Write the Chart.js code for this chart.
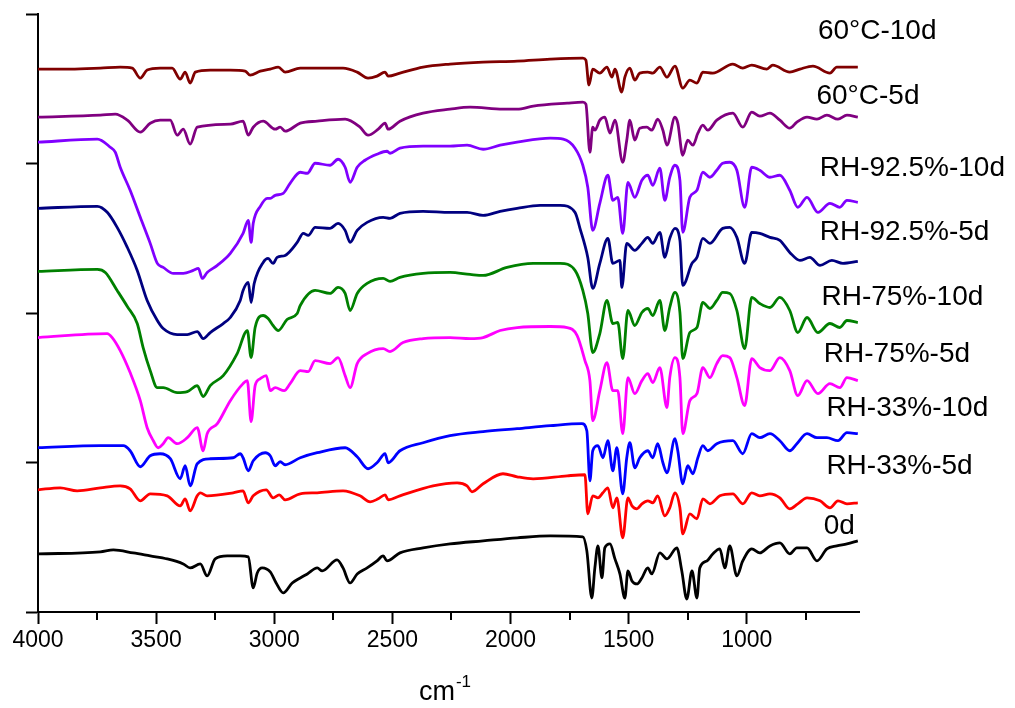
<!DOCTYPE html>
<html>
<head>
<meta charset="utf-8">
<title>IR spectra</title>
<script src="https://cdn.jsdelivr.net/npm/chart.js@4.4.1/dist/chart.umd.min.js"></script>
<style>
  html, body { margin: 0; padding: 0; background: #fff; }
  #wrap { width: 1015px; height: 708px; }
</style>
</head>
<body>
<div id="wrap"><canvas id="irChart" width="1015" height="708"></canvas></div>
<script>
// [wavenumber cm-1, offset intensity a.u.]
const s60C10d = [[4000,542],[3863,542],[3736,543],[3652,544],[3601,543],[3567,533],[3538,541],[3483,543],[3432,543],[3398,532],[3377,539],[3356,528],[3334,539],[3271,541],[3186,541],[3123,540],[3102,536],[3059,540],[3017,542],[2983,544],[2954,539],[2890,543],[2806,543],[2709,543],[2649,539],[2603,533],[2565,535],[2531,539],[2518,535],[2468,538],[2370,544],[2256,547],[2116,549],[1972,550],[1832,552],[1694,553],[1681,551],[1668,526],[1652,542],[1622,538],[1592,544],[1571,534],[1558,542],[1529,519],[1516,534],[1495,543],[1474,531],[1453,538],[1419,539],[1398,538],[1368,544],[1338,534],[1304,545],[1271,523],[1241,531],[1211,528],[1186,539],[1144,538],[1059,547],[1017,543],[979,546],[915,542],[890,546],[818,539],[775,542],[720,545],[648,538],[619,544],[576,544],[530,544]];

const s60C5d = [[4000,494],[3736,496],[3673,497],[3622,491],[3567,479],[3525,488],[3483,491],[3440,491],[3411,476],[3385,482],[3356,467],[3326,484],[3186,487],[3132,490],[3110,476],[3089,484],[3047,490],[2996,482],[2975,484],[2954,480],[2890,488],[2818,490],[2700,492],[2637,484],[2603,476],[2560,482],[2531,488],[2518,482],[2468,490],[2370,498],[2256,502],[2171,504],[2032,502],[1972,502],[1904,505],[1760,508],[1694,509],[1681,507],[1664,459],[1652,484],[1643,481],[1622,491],[1601,494],[1579,478],[1558,491],[1525,449],[1508,471],[1495,491],[1474,471],[1453,483],[1423,484],[1402,481],[1377,492],[1355,481],[1338,466],[1304,494],[1292,488],[1271,456],[1250,471],[1228,466],[1207,478],[1186,486],[1165,481],[1127,491],[1059,498],[1017,484],[979,499],[945,495],[902,498],[860,491],[818,483],[788,489],[745,494],[703,492],[661,496],[614,492],[576,496],[530,494]];

const sRH925_10d = [[4000,469],[3749,472],[3694,464],[3673,459],[3652,444],[3610,421],[3567,394],[3525,368],[3495,348],[3470,344],[3427,338],[3385,338],[3343,341],[3321,343],[3305,333],[3284,339],[3241,346],[3186,358],[3132,378],[3110,391],[3098,369],[3089,388],[3059,405],[3030,413],[3017,413],[2996,416],[2962,418],[2933,428],[2890,439],[2860,438],[2827,448],[2764,446],[2730,452],[2700,444],[2679,429],[2649,444],[2616,451],[2565,457],[2523,460],[2510,458],[2468,463],[2370,465],[2256,465],[2184,466],[2116,462],[2044,466],[1972,469],[1832,473],[1777,472],[1727,463],[1694,446],[1673,424],[1652,381],[1622,408],[1588,436],[1567,411],[1546,414],[1525,378],[1503,429],[1474,414],[1444,431],[1419,436],[1398,426],[1368,443],[1347,411],[1326,434],[1304,446],[1283,431],[1271,379],[1241,414],[1211,421],[1186,439],[1156,434],[1127,441],[1102,448],[1072,449],[1042,441],[1009,404],[979,444],[945,441],[902,434],[860,436],[818,421],[784,404],[745,414],[699,399],[648,408],[606,404],[576,411],[530,409]];

const sRH925_5d = [[4000,403],[3749,405],[3707,399],[3665,384],[3622,364],[3580,341],[3538,311],[3495,291],[3470,283],[3411,277],[3368,277],[3326,280],[3301,273],[3271,279],[3216,288],[3186,294],[3144,311],[3132,321],[3110,329],[3098,309],[3085,328],[3047,349],[3026,353],[3005,348],[2988,354],[2954,356],[2903,369],[2877,378],[2856,376],[2827,384],[2764,383],[2730,388],[2700,381],[2679,369],[2649,381],[2607,389],[2539,394],[2510,393],[2468,398],[2370,400],[2256,399],[2184,399],[2116,396],[2044,400],[1972,403],[1875,406],[1790,406],[1727,399],[1706,383],[1673,354],[1652,323],[1622,348],[1588,373],[1567,348],[1537,351],[1529,324],[1508,368],[1474,361],[1444,368],[1419,374],[1398,368],[1368,379],[1347,354],[1326,373],[1304,383],[1283,371],[1271,326],[1232,348],[1211,354],[1186,373],[1156,368],[1102,383],[1072,384],[1042,374],[1009,348],[979,379],[945,378],[902,374],[860,371],[818,359],[775,351],[733,354],[690,346],[640,351],[593,348],[530,350]];

const sRH75_10d = [[4000,340],[3749,342],[3715,339],[3665,321],[3622,305],[3580,288],[3555,264],[3525,241],[3495,224],[3470,224],[3411,219],[3368,220],[3326,226],[3301,215],[3271,226],[3216,236],[3157,258],[3114,281],[3098,254],[3081,284],[3047,296],[3026,293],[3005,286],[2983,281],[2946,292],[2903,298],[2890,306],[2827,321],[2764,318],[2730,324],[2700,318],[2679,301],[2649,318],[2607,328],[2539,333],[2510,330],[2468,334],[2370,338],[2256,339],[2171,337],[2116,336],[2015,344],[1904,348],[1790,348],[1727,341],[1694,321],[1673,298],[1652,259],[1622,278],[1592,311],[1567,288],[1546,289],[1525,253],[1503,301],[1474,286],[1444,299],[1419,303],[1398,296],[1368,311],[1347,281],[1326,304],[1304,319],[1283,299],[1271,253],[1241,279],[1211,284],[1186,309],[1156,303],[1127,311],[1102,319],[1072,318],[1042,301],[1009,263],[979,314],[945,308],[902,304],[860,314],[818,301],[784,279],[745,294],[699,279],[648,288],[606,284],[576,291],[530,289]];

const sRH75_5d = [[4000,274],[3707,278],[3686,274],[3652,261],[3610,239],[3567,211],[3538,184],[3512,171],[3491,164],[3470,168],[3449,174],[3411,168],[3368,174],[3326,184],[3301,161],[3284,178],[3241,188],[3186,211],[3132,228],[3114,231],[3098,190],[3081,226],[3059,233],[3034,236],[3017,221],[2996,224],[2958,221],[2933,228],[2890,241],[2856,240],[2827,251],[2764,248],[2730,254],[2700,236],[2679,224],[2649,248],[2607,258],[2539,263],[2510,260],[2455,269],[2370,273],[2256,274],[2171,273],[2116,274],[2044,281],[1972,284],[1832,285],[1760,284],[1718,276],[1685,251],[1664,231],[1652,191],[1622,221],[1592,249],[1567,221],[1546,221],[1525,178],[1503,234],[1474,218],[1444,231],[1419,238],[1398,229],[1368,244],[1338,204],[1326,234],[1304,254],[1283,234],[1271,178],[1241,211],[1211,218],[1186,244],[1156,234],[1127,248],[1102,256],[1072,254],[1042,234],[1009,206],[979,253],[945,244],[902,241],[860,254],[818,241],[784,216],[745,231],[699,218],[648,228],[606,224],[576,234],[530,231]];

const sRH33_10d = [[4000,164],[3736,166],[3639,166],[3610,161],[3567,145],[3525,156],[3483,158],[3440,153],[3398,133],[3377,146],[3356,126],[3326,148],[3271,153],[3174,154],[3144,158],[3132,154],[3110,141],[3089,151],[3038,159],[3017,156],[2996,146],[2975,150],[2954,147],[2890,154],[2818,159],[2700,164],[2649,155],[2603,143],[2565,149],[2531,158],[2518,149],[2468,161],[2370,169],[2256,176],[2116,180],[1972,183],[1832,186],[1698,188],[1677,181],[1664,131],[1652,161],[1630,166],[1609,154],[1588,171],[1567,141],[1550,164],[1525,118],[1508,154],[1495,169],[1474,144],[1453,154],[1419,161],[1398,154],[1377,168],[1355,149],[1338,139],[1304,173],[1292,161],[1271,128],[1250,146],[1228,138],[1207,154],[1186,166],[1165,161],[1127,168],[1059,171],[1017,158],[979,178],[945,174],[902,178],[860,171],[818,161],[788,168],[745,178],[703,174],[661,174],[614,171],[576,179],[530,178]];

const sRH33_5d = [[4000,122],[3906,124],[3834,121],[3736,124],[3652,126],[3610,123],[3567,111],[3525,118],[3453,116],[3398,106],[3377,113],[3356,101],[3326,116],[3313,119],[3284,116],[3174,119],[3132,121],[3110,109],[3089,116],[3034,122],[3005,114],[2979,117],[2954,112],[2890,118],[2818,119],[2709,121],[2637,116],[2594,110],[2560,113],[2531,117],[2518,112],[2468,116],[2328,126],[2226,129],[2184,126],[2163,120],[2116,128],[2032,138],[1972,135],[1904,133],[1760,136],[1685,137],[1673,98],[1652,116],[1630,114],[1609,119],[1588,124],[1567,104],[1550,114],[1525,74],[1503,114],[1486,106],[1465,103],[1444,108],[1419,111],[1398,109],[1377,116],[1347,96],[1326,104],[1304,119],[1283,104],[1271,78],[1241,98],[1211,93],[1186,113],[1156,108],[1114,116],[1059,118],[1017,108],[979,119],[945,116],[902,118],[860,114],[818,103],[784,108],[745,114],[690,111],[648,104],[614,111],[576,108],[530,109]];

const s0d = [[4000,58],[3736,60],[3681,62],[3597,59],[3525,56],[3453,53],[3385,48],[3356,44],[3313,48],[3284,36],[3250,53],[3199,56],[3144,56],[3110,55],[3089,24],[3072,39],[3051,44],[3017,40],[2992,29],[2962,19],[2924,29],[2890,34],[2860,38],[2818,44],[2797,41],[2734,52],[2709,44],[2679,29],[2649,38],[2607,44],[2565,51],[2539,56],[2523,51],[2468,59],[2370,64],[2256,68],[2116,71],[1972,74],[1832,76],[1694,75],[1677,61],[1656,14],[1643,44],[1630,66],[1613,34],[1601,64],[1579,68],[1558,53],[1537,38],[1516,14],[1503,41],[1486,31],[1465,28],[1444,34],[1419,44],[1402,38],[1368,59],[1338,53],[1296,64],[1275,41],[1254,13],[1232,41],[1211,14],[1199,44],[1169,51],[1144,58],[1114,63],[1093,44],[1072,66],[1042,36],[1017,51],[979,63],[945,59],[902,66],[860,69],[818,58],[788,64],[745,64],[703,51],[661,63],[619,66],[576,68],[530,71]];

const seriesData = [s60C10d, s60C5d, sRH925_10d, sRH925_5d, sRH75_10d, sRH75_5d, sRH33_10d, sRH33_5d, s0d];
const seriesNames = ["60°C-10d", "60°C-5d", "RH-92.5%-10d", "RH-92.5%-5d", "RH-75%-10d", "RH-75%-5d", "RH-33%-10d", "RH-33%-5d", "0d"];
const seriesColors = ["#800000", "#800080", "#8000FF", "#000080", "#008000", "#FF00FF", "#0000FF", "#FF0000", "#000000"];

const xMajorTicks = [4000, 3500, 3000, 2500, 2000, 1500, 1000];
const xMinorTicks = [3750, 3250, 2750, 2250, 1750, 1250, 750];
const yTicks = [0, 149.25, 298.5, 447.75, 597];

// where each series name sits: [wavenumber, intensity] of the text baseline start
const labelAnchors = [[699, 572], [705, 507], [691, 435], [691, 371], [684, 306], [674, 250], [663, 196], [663, 138], [674, 78]];

const FONT = "'Liberation Sans', Arial, sans-serif";

const decorations = {
  id: "decorations",
  afterDraw(chart) {
    const ctx = chart.ctx;
    const xs = chart.scales.x;
    const ys = chart.scales.y;
    ctx.save();

    // minor x ticks
    ctx.strokeStyle = "#000";
    ctx.lineWidth = 2;
    xMinorTicks.forEach((v) => {
      const px = Math.round(xs.getPixelForValue(v));
      ctx.beginPath();
      ctx.moveTo(px, ys.bottom);
      ctx.lineTo(px, ys.bottom + 8);
      ctx.stroke();
    });

    // series names
    ctx.fillStyle = "#000";
    ctx.font = "28px " + FONT;
    ctx.textAlign = "left";
    ctx.textBaseline = "alphabetic";
    seriesNames.forEach((name, i) => {
      const a = labelAnchors[i];
      ctx.fillText(name, xs.getPixelForValue(a[0]), ys.getPixelForValue(a[1]));
    });

    // axis title cm-1
    ctx.font = "27px " + FONT;
    const w1 = ctx.measureText("cm").width;
    ctx.font = "17px " + FONT;
    const w2 = ctx.measureText("-1").width;
    const cx = (xs.left + xs.right) / 2 - 4;
    const x0 = cx - (w1 + w2) / 2;
    ctx.font = "27px " + FONT;
    ctx.fillText("cm", x0, 700);
    ctx.font = "17px " + FONT;
    ctx.fillText("-1", x0 + w1 + 1, 687);

    ctx.restore();
  },
};

const datasets = seriesData.map((pts, i) => ({
  label: seriesNames[i],
  data: pts.map((p) => ({ x: p[0], y: p[1] })),
  borderColor: seriesColors[i],
  backgroundColor: seriesColors[i],
  borderWidth: 2.8,
  pointRadius: 0,
  cubicInterpolationMode: "monotone",
  borderJoinStyle: "round",
}));

const ctx = document.getElementById("irChart").getContext("2d");

const irChart = new Chart(ctx, {
  type: "line",
  data: { datasets: datasets },
  options: {
    responsive: false,
    animation: false,
    devicePixelRatio: 1,
    layout: { padding: { top: 14, right: 156, left: 0, bottom: 0 } },
    plugins: {
      legend: { display: false },
      tooltip: { enabled: false },
    },
    scales: {
      x: {
        type: "linear",
        reverse: true,
        min: 525,
        max: 4000,
        afterBuildTicks: (scale) => {
          scale.ticks = xMajorTicks.map((v) => ({ value: v }));
        },
        afterFit: (scale) => {
          scale.height = 96;
        },
        grid: {
          drawOnChartArea: false,
          drawTicks: true,
          tickLength: 12,
          tickColor: "#000",
          tickWidth: 2,
        },
        border: { display: true, color: "#000", width: 2 },
        ticks: {
          color: "#000",
          font: { family: FONT, size: 23 },
          padding: 3,
          maxRotation: 0,
          autoSkip: false,
          callback: (v) => String(v),
        },
      },
      y: {
        type: "linear",
        min: 0,
        max: 597,
        afterBuildTicks: (scale) => {
          scale.ticks = yTicks.map((v) => ({ value: v }));
        },
        afterFit: (scale) => {
          scale.width = 38;
        },
        grid: {
          drawOnChartArea: false,
          drawTicks: true,
          tickLength: 12,
          tickColor: "#000",
          tickWidth: 2,
        },
        border: { display: true, color: "#000", width: 2 },
        ticks: { display: false },
      },
    },
  },
  plugins: [decorations],
});
</script>
</body>
</html>
